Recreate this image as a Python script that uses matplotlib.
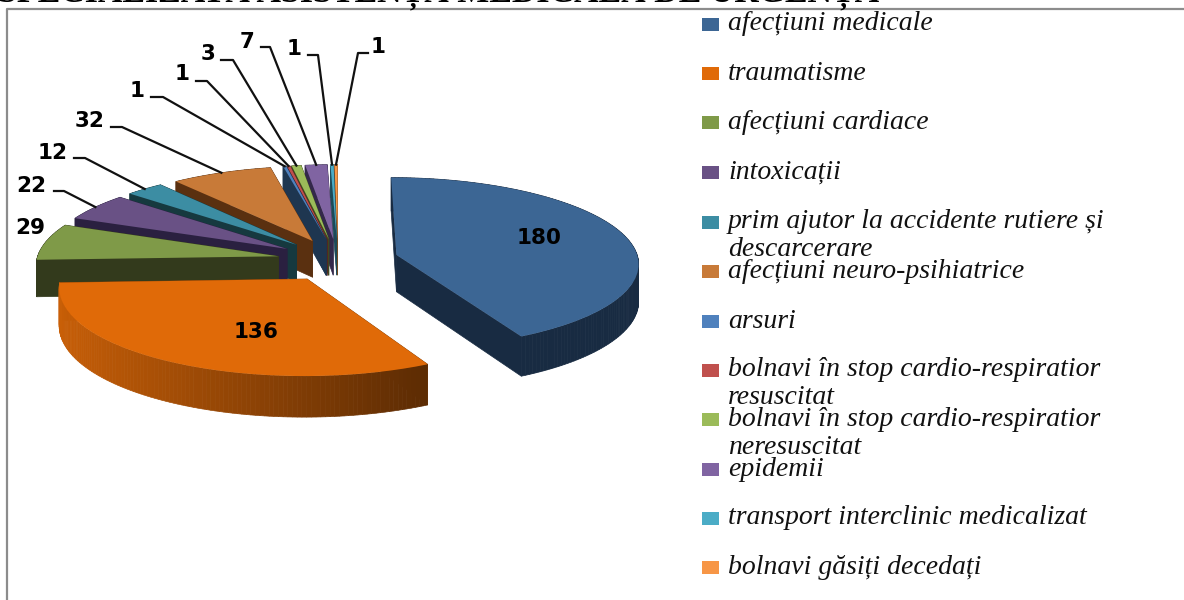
import matplotlib
matplotlib.use("Agg")
import matplotlib.pyplot as plt
import numpy as np

# data
values = [180, 136, 29, 22, 12, 32, 1, 1, 3, 7, 1, 1]
categories = [
    "afecțiuni medicale",
    "traumatisme",
    "afecțiuni cardiace",
    "intoxicații",
    "prim ajutor la accidente rutiere și\ndescarcerare",
    "afecțiuni neuro-psihiatrice",
    "arsuri",
    "bolnavi în stop cardio-respiratior\nresuscitat",
    "bolnavi în stop cardio-respiratior\nneresuscitat",
    "epidemii",
    "transport interclinic medicalizat",
    "bolnavi găsiți decedați",
]
title = "SPECIALIZATĂ ASISTENȚĂ MEDICALĂ DE URGENȚĂ"

top_colors = ["#3C6694", "#E06A08", "#7F9A48", "#695185", "#3C8DA3", "#C87A38",
              "#4F81BD", "#C0504D", "#9BBB59", "#8064A2", "#4BACC6", "#F79646"]
side_colors = ["#182B42", "#8A4205", "#333A1C", "#2A2040", "#16393F", "#5A3010",
               "#1E3650", "#5A2020", "#3F4A20", "#33284A", "#1C4A58", "#7A4A20"]

# pie geometry in pixels
cx, cy = 338, 260
rx, ry = 242, 86
explode = 0.25
persp = 0.09
depth = 37

# where the value labels and their leader elbows sit
label_pos = [(539, 238), (256, 332), (30, 228), (31, 186), (53, 153), (90, 121),
             (137, 91), (182, 74), (208, 54), (247, 42), (294, 49), (378, 47)]
elbows = [None, None, None,
          [(54, 191), (64, 191)], [(74, 158), (85, 158)], [(111, 127), (122, 127)],
          [(151, 97), (163, 97)], [(196, 81), (207, 81)], [(221, 60), (233, 60)],
          [(261, 47), (270, 47)], [(308, 55), (318, 55)], [(368, 53), (358, 53)]]
legend_y = [24, 73, 122.5, 172, 222, 271, 321, 370, 419, 469, 518, 567]


def project(u, v, drop=0):
    w = 1 + persp * v
    return cx + rx * u * w, cy + ry * v * w + drop * w


def wedge_points(start, end, mid, r=1.0, drop=0, n=40):
    ang = np.radians(np.linspace(start, end, n))
    ex, ey = explode * np.sin(mid), -explode * np.cos(mid)
    return project(ex + r * np.sin(ang), ey - r * np.cos(ang), drop)


def apex(mid, drop=0):
    return project(explode * np.sin(mid), -explode * np.cos(mid), drop)


def wall_color(hex_color, ang):
    # rim of the big front slice fades from left to right
    rgb = np.array(matplotlib.colors.to_rgb(hex_color))
    shade = np.interp(np.sin(ang), [-1, 0.46], [0.9, 0.41])
    return tuple(rgb * shade)


fig = plt.figure(figsize=(11.84, 6), dpi=100)
ax = fig.add_axes([0, 0, 1, 1])
ax.set_xlim(0, 1184)
ax.set_ylim(600, 0)
ax.axis("off")

total = sum(values)
edges = np.concatenate([[0], np.cumsum(values)]) / total * 360

# back slices first, then the front ones on top
for i in range(len(values) - 1, -1, -1):
    a0, a1 = edges[i], edges[i + 1]
    mid = np.radians((a0 + a1) / 2)
    ax0, ay0 = apex(mid)
    ax1, ay1 = apex(mid, depth)
    for a in (a0, a1):
        xr, yr = wedge_points(a, a, mid, n=1)
        xb, yb = wedge_points(a, a, mid, drop=depth, n=1)
        ax.fill([ax0, xr[0], xb[0], ax1], [ay0, yr[0], yb[0], ay1],
                color=side_colors[i], lw=0.5, zorder=i * -3 + 100)
    steps = max(2, int(a1 - a0))
    angs = np.linspace(a0, a1, steps + 1)
    for a, b in zip(angs[:-1], angs[1:]):
        xt, yt = wedge_points(a, b, mid, n=2)
        xb, yb = wedge_points(a, b, mid, drop=depth, n=2)
        col = wall_color(top_colors[i], np.radians((a + b) / 2)) if i == 1 else side_colors[i]
        ax.fill([xt[0], xt[1], xb[1], xb[0]], [yt[0], yt[1], yb[1], yb[0]],
                color=col, lw=0.5, zorder=i * -3 + 100)
    xs, ys = wedge_points(a0, a1, mid)
    ax.fill(np.r_[ax0, xs], np.r_[ay0, ys], color=top_colors[i], lw=0,
            zorder=i * -3 + 101)

# value labels with leader lines
for i, val in enumerate(values):
    ax.text(*label_pos[i], str(val), fontsize=15.5, fontweight="bold",
            family="DejaVu Sans", ha="center", va="center", zorder=200)
    if elbows[i]:
        a = (edges[i] + edges[i + 1]) / 2
        xr, yr = wedge_points(a, a, np.radians(a), n=1)
        ex, ey = zip(*elbows[i])
        ax.plot(list(ex) + [xr[0]], list(ey) + [yr[0]], color="#111111", lw=1.6,
                zorder=150)

# legend drawn by hand so the rows land where they do in the picture
for name, col, y in zip(categories, top_colors, legend_y):
    ax.fill([702, 719, 719, 702], [y - 6.5, y - 6.5, y + 6.5, y + 6.5], color=col, lw=0)
    for k, line in enumerate(name.split("\n")):
        ax.text(728, y + 6.5 + 28 * k, line, fontsize=20, style="italic",
                family="Liberation Serif", va="baseline", ha="left", color="#111111")

# chart frame and the cut off heading
ax.plot([7, 7, 1184], [600, 9, 9], color="#8C8C8C", lw=1.6, zorder=210)
ax.text(-2, 1.8, title, fontsize=24.4, fontweight="bold", family="Liberation Serif",
        va="baseline", ha="left", color="black", zorder=220)

fig.savefig("out.png", dpi=100)
